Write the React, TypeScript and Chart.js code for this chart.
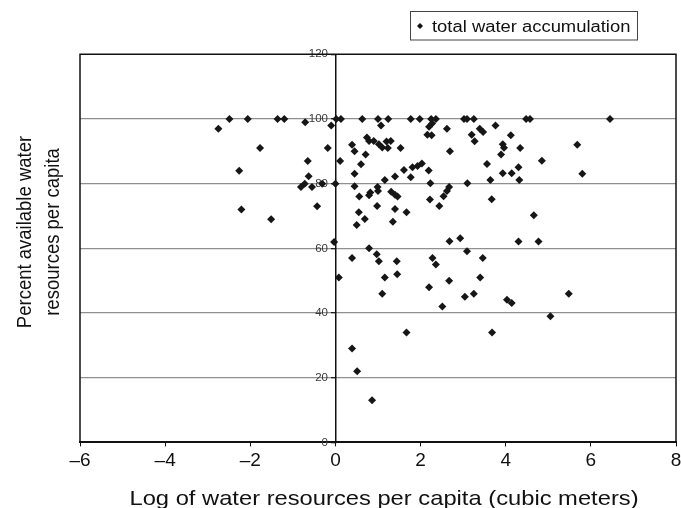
import React, { useEffect, useRef } from "react";
import { Chart, registerables } from "chart.js";

Chart.register(...registerables);

const FONT = "'Liberation Sans', Arial, Helvetica, sans-serif";

const seriesLabel = "total water accumulation";
const xTitle = "Log of water resources per capita (cubic meters)";
const yTitleLines = ["Percent available water", "resources per capita"];

const xTickValues = [-6, -4, -2, 0, 2, 4, 6, 8];
const yTickValues = [0, 20, 40, 60, 80, 100, 120];

// log of water resources per capita
const logWater: number[] = [
  -2.75, -2.49, -2.06, -1.36, -1.2, -0.71, -1.77, -2.26, -0.65, -0.63,
  -0.72, -0.81, -0.55, -0.31, -0.18, -0.1, 0.02, 0.13, 0.0, -0.43,
  -2.21, -1.51, -0.03,
  0.63, 1.0, 1.07, 1.24, 1.77, 1.98, 2.25, 2.36, 2.27, 2.2,
  2.62, 2.16, 2.26, 3.02, 3.09, 3.25, 3.39, 3.2, 3.27, 2.69,
  0.11, 0.39, 0.45, 0.74, 0.79, 0.9, 1.02, 1.1, 1.2, 1.3,
  1.23, 1.53, 0.71, 0.6, 0.45, 1.61, 1.81, 1.93, 2.03, 2.19,
  1.77, 1.4, 1.16, 0.45, 0.56, 0.99, 1.0, 0.82, 0.79, 1.31,
  1.4, 1.46, 2.23, 2.67, 2.62, 2.54, 3.1, 2.22, 2.44, 0.98,
  1.4, 1.67, 0.55, 0.69, 0.5, 1.35, 2.68, 2.93, 3.09, 0.79,
  0.97, 1.02,
  4.48, 4.57, 6.45, 3.47, 3.76, 4.12, 3.93, 3.96, 3.89, 4.34,
  5.68, 4.85, 3.56, 4.3, 3.93, 4.14, 5.8, 3.64, 4.32, 3.67,
  4.66, 4.3, 4.77,
  0.08, 0.39, 1.16, 1.1, 1.44, 1.45, 0.39, 0.51, 0.86, 1.67,
  2.28, 2.36, 2.2, 2.51, 2.67, 3.46, 3.4, 3.04, 3.25, 4.03,
  4.14, 3.68, 5.05, 5.48,
];

// percent available water resources per capita
const pctAvailable: number[] = [
  97, 100, 100, 100, 100, 99, 91, 84, 87, 82.3,
  80, 79, 79, 80, 91, 98, 100, 100, 80, 73,
  72, 69, 62,
  100, 100, 98, 100, 100, 100, 100, 100, 98.6, 97.6,
  97, 95.1, 95, 100, 100, 100, 97, 95.1, 93.1, 90,
  87, 92, 90, 94.3, 93.2, 93.2, 92.2, 91.2, 93, 93.2,
  91, 91, 89, 86, 83.1, 84.2, 85.1, 85.5, 86.2, 84.1,
  82, 82.2, 81.1, 79.2, 76, 79, 77.7, 77.3, 76.4, 77.5,
  76.6, 76, 80.1, 79, 77.7, 76.1, 80.1, 75.1, 73.1, 73.1,
  72.2, 71.2, 71.2, 69.1, 67.2, 68.2, 62.2, 63.1, 59.1, 60,
  58.2, 56,
  100, 100, 100, 96, 98, 95, 92.2, 91.1, 89, 91,
  92, 87.1, 86.1, 85.1, 83.2, 83.2, 83.1, 81.1, 81.1, 75.2,
  70.2, 62.1, 62.1,
  51, 57, 51, 46, 56, 52, 29, 22, 13, 34,
  57, 55, 48, 42, 50, 57, 51, 45, 46, 44.1,
  43.1, 34, 39, 46,
];

const fmtTick = (v: number) => (v < 0 ? "\u2013" + Math.abs(v) : String(v));

const decorPlugin = {
  id: "decor",
  afterDraw(chart: any) {
    const { ctx, chartArea: a } = chart;
    ctx.save();
    // frame (left, top, right)
    ctx.strokeStyle = "#111";
    ctx.lineWidth = 1.5;
    ctx.beginPath();
    ctx.moveTo(a.left, a.bottom);
    ctx.lineTo(a.left, a.top);
    ctx.lineTo(a.right, a.top);
    ctx.lineTo(a.right, a.bottom);
    ctx.stroke();

    ctx.fillStyle = "#111";
    // x title
    ctx.font = `21px ${FONT}`;
    ctx.textAlign = "center";
    ctx.textBaseline = "alphabetic";
    ctx.save();
    ctx.translate(384, 505);
    ctx.scale(1.13, 1);
    ctx.fillText(xTitle, 0, 0);
    ctx.restore();

    // y title
    ctx.font = `18.5px ${FONT}`;
    const baselines = [31, 59];
    yTitleLines.forEach((line, i) => {
      ctx.save();
      ctx.translate(0, 232);
      ctx.rotate(-Math.PI / 2);
      ctx.scale(1, 1.12);
      ctx.fillText(line, 0, baselines[i] / 1.12);
      ctx.restore();
    });

    // legend
    ctx.strokeStyle = "#444";
    ctx.lineWidth = 1;
    ctx.strokeRect(410.5, 11.5, 227, 28.5);
    ctx.beginPath();
    ctx.moveTo(420, 23);
    ctx.lineTo(423, 26);
    ctx.lineTo(420, 29);
    ctx.lineTo(417, 26);
    ctx.closePath();
    ctx.fillStyle = "#111";
    ctx.fill();
    ctx.font = `16px ${FONT}`;
    ctx.textAlign = "left";
    ctx.save();
    ctx.translate(432, 32);
    ctx.scale(1.15, 1);
    ctx.fillText(seriesLabel, 0, 0);
    ctx.restore();
    ctx.restore();
  },
};

export default function App() {
  const canvasRef = useRef<HTMLCanvasElement | null>(null);

  useEffect(() => {
    document.body.style.margin = "0";
    const canvas = canvasRef.current;
    if (!canvas) return;
    const points = logWater.map((x, i) => ({ x, y: pctAvailable[i] }));
    const chart = new Chart(canvas, {
      type: "scatter",
      data: {
        datasets: [
          {
            label: seriesLabel,
            data: points,
            pointStyle: "rectRot",
            pointRadius: 4,
            pointHoverRadius: 4,
            backgroundColor: "#161616",
            borderColor: "#161616",
            borderWidth: 0,
          },
        ],
      },
      options: {
        responsive: false,
        animation: false,
        events: [],
        layout: { padding: { left: 80, right: 5, top: 54.3, bottom: 0 } },
        plugins: {
          legend: { display: false },
          tooltip: { enabled: false },
          title: { display: false },
        },
        scales: {
          x: {
            type: "linear",
            position: "bottom",
            min: -6,
            max: 8,
            afterBuildTicks: (s: any) => {
              s.ticks = xTickValues.map((v) => ({ value: v }));
            },
            afterFit: (s: any) => {
              s.height = 508 - 442.4;
              s.paddingLeft = 0;
              s.paddingRight = 0;
            },
            ticks: {
              autoSkip: false,
              maxRotation: 0,
              padding: 3,
              color: "#111",
              font: { family: FONT, size: 19 },
              callback: (v: any) => fmtTick(Number(v)),
            },
            grid: {
              drawOnChartArea: false,
              drawTicks: true,
              tickLength: 4,
              color: "#111",
              lineWidth: 1,
            },
            border: { display: true, color: "#111", width: 2 },
          },
          y: {
            type: "linear",
            position: { x: 0 } as any,
            min: 0,
            max: 120,
            afterBuildTicks: (s: any) => {
              s.ticks = yTickValues.map((v) => ({ value: v }));
            },
            afterFit: (s: any) => {
              s.paddingTop = 0;
              s.paddingBottom = 0;
            },
            afterUpdate: (s: any) => {
              if (!s.__shifted) {
                s.__shifted = true;
                const orig = s._computeLabelItems;
                s._computeLabelItems = function (ca: any) {
                  const items = orig.call(this, ca);
                  items.forEach((it: any) => {
                    const t = it.options.translation;
                    it.options = {
                      ...it.options,
                      textAlign: "right",
                      translation: [t[0] - 7.5, t[1]],
                    };
                  });
                  return items;
                };
                s._labelItems = null;
              }
            },
            ticks: {
              autoSkip: false,
              padding: 3,
              color: "#3a3a3a",
              font: { family: FONT, size: 11.5 },
            },
            grid: {
              drawOnChartArea: true,
              drawTicks: true,
              tickLength: 4,
              color: (c: any) =>
                c.tick && (c.tick.value === 0 || c.tick.value === 120)
                  ? "rgba(0,0,0,0)"
                  : "#8f8f8f",
              tickColor: "#222",
              lineWidth: 1.3,
            },
            border: { display: true, color: "#111", width: 1.5 },
          },
        },
      },
      plugins: [decorPlugin],
    });
    return () => chart.destroy();
  }, []);

  return (
    <canvas
      ref={canvasRef}
      width={681}
      height={508}
      style={{ display: "block", width: 681, height: 508 }}
    />
  );
}
